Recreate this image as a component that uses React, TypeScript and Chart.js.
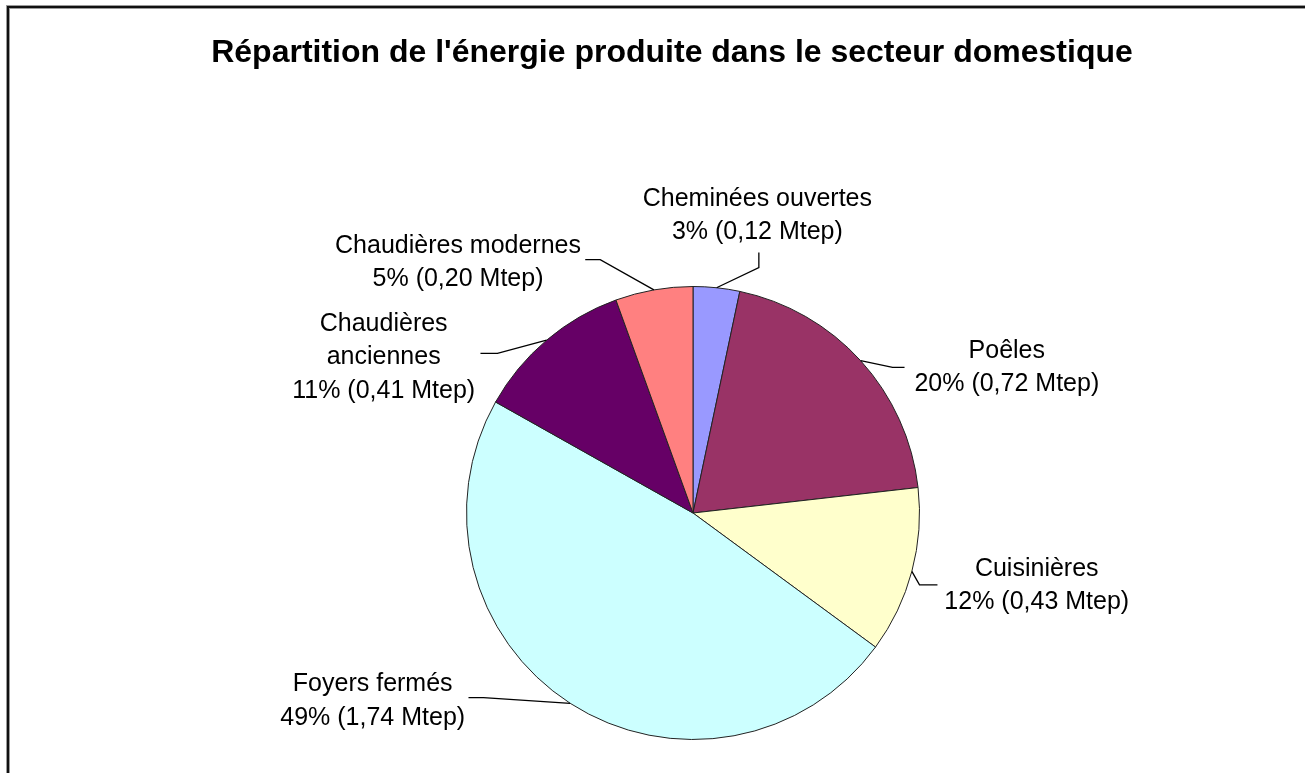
import React, { useEffect, useRef } from "react";
import { Chart, registerables } from "chart.js";

Chart.register(...registerables);

// ---- data ----
const chartTitle = "Répartition de l'énergie produite dans le secteur domestique";
const categories = [
  "Cheminées ouvertes",
  "Poêles",
  "Cuisinières",
  "Foyers fermés",
  "Chaudières anciennes",
  "Chaudières modernes",
];
const mtepValues = [0.12, 0.72, 0.43, 1.74, 0.41, 0.2];
const percentLabels = ["3%", "20%", "12%", "49%", "11%", "5%"];
const mtepLabels = ["0,12", "0,72", "0,43", "1,74", "0,41", "0,20"];

// ---- styles / layout (not data) ----
const sliceColors = ["#9999FF", "#993366", "#FFFFCC", "#CCFFFF", "#660066", "#FF8080"];
const wrapCategory = [false, false, false, false, true, false];
// label centre and leader elbow/end, as px offsets from pie centre at radius 227
const labelLayout = [
  { c: [64.5, -300], q: [66, -246], p: [66, -261] },
  { c: [314.5, -148], q: [200, -146], p: [212, -146] },
  { c: [344.5, 70.5], q: [227, 72], p: [245, 72] },
  { c: [-321, 186.5], q: [-210, 185], p: [-225, 185] },
  { c: [-310, -158], q: [-196, -160], p: [-213, -160] },
  { c: [-235.5, -253], q: [-93, -254], p: [-108, -254] },
];
const FONT = "'Liberation Sans', Arial, sans-serif";
const LABEL_SIZE = 25;
const LINE_H = 33.5;

const overlayPlugin = {
  id: "overlay",
  afterDraw(chart: any) {
    const ctx = chart.ctx as CanvasRenderingContext2D;
    ctx.save();
    // frame (top + left edges)
    ctx.fillStyle = "#9a9a9a";
    ctx.fillRect(6, 5, 1400, 4);
    ctx.fillRect(6, 5, 4, 1000);
    ctx.fillStyle = "#111";
    ctx.fillRect(7, 6, 1400, 2);
    ctx.fillRect(7, 6, 2, 1000);

    // title
    ctx.fillStyle = "#000";
    ctx.font = `bold 32px ${FONT}`;
    ctx.textAlign = "center";
    ctx.textBaseline = "alphabetic";
    ctx.fillText(chartTitle, 672, 62);

    // labels + leader lines
    const meta = chart.getDatasetMeta(0);
    meta.data.forEach((arc: any, i: number) => {
      const { x, y, startAngle, endAngle, outerRadius } = arc.getProps(
        ["x", "y", "startAngle", "endAngle", "outerRadius"],
        true
      );
      const k = outerRadius / 227;
      const mid = (startAngle + endAngle) / 2;
      const ex = x + outerRadius * Math.cos(mid);
      const ey = y + outerRadius * Math.sin(mid);
      const L = labelLayout[i];
      ctx.strokeStyle = "#000";
      ctx.lineWidth = 1.3;
      ctx.beginPath();
      ctx.moveTo(ex, ey);
      ctx.lineTo(x + L.q[0] * k, y + L.q[1] * k);
      ctx.lineTo(x + L.p[0] * k, y + L.p[1] * k);
      ctx.stroke();

      const lines: string[] = wrapCategory[i]
        ? categories[i].split(" ")
        : [categories[i]];
      lines.push(`${percentLabels[i]} (${mtepLabels[i]} Mtep)`);
      const cx = x + L.c[0] * k;
      const cy = y + L.c[1] * k;
      ctx.font = `${LABEL_SIZE}px ${FONT}`;
      ctx.fillStyle = "#000";
      ctx.textAlign = "center";
      ctx.textBaseline = "alphabetic";
      const n = lines.length;
      lines.forEach((t, j) => {
        const my = cy + (j - (n - 1) / 2) * LINE_H;
        ctx.fillText(t, cx, my + 9);
      });
    });
    ctx.restore();
  },
};

export default function App() {
  const canvasRef = useRef<HTMLCanvasElement | null>(null);

  useEffect(() => {
    if (!canvasRef.current) return;
    const chart = new Chart(canvasRef.current, {
      type: "pie",
      data: {
        labels: categories,
        datasets: [
          {
            data: mtepValues,
            backgroundColor: sliceColors,
            borderColor: "#222",
            borderWidth: 1,
          },
        ],
      },
      options: {
        responsive: false,
        animation: false,
        rotation: 0,
        layout: { padding: { left: 466, right: 385, top: 286, bottom: 33 } },
        plugins: {
          legend: { display: false },
          title: { display: false },
          tooltip: { enabled: false },
        },
      },
      plugins: [overlayPlugin],
    });
    return () => chart.destroy();
  }, []);

  return (
    <div style={{ position: "absolute", left: 0, top: 0, width: 1305, height: 773, background: "#fff" }}>
      <canvas ref={canvasRef} width={1305} height={773} style={{ display: "block" }} />
    </div>
  );
}
